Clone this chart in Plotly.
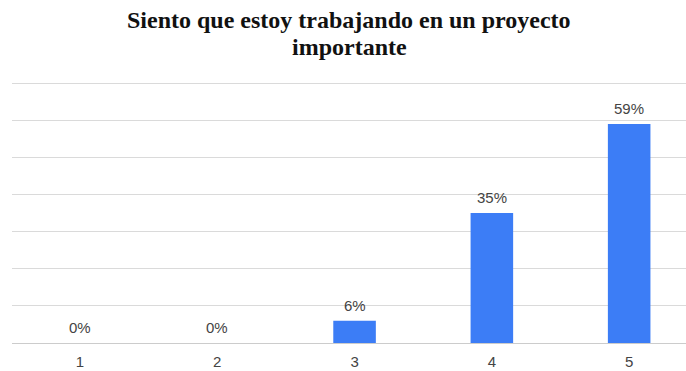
import plotly.graph_objects as go

# Survey answers on a 1-5 scale and the share of respondents for each
categories = ["1", "2", "3", "4", "5"]
shares = [0, 0, 6, 35, 59]
title_lines = ["Siento que estoy trabajando en un proyecto", "importante"]

x_pos = list(range(1, len(categories) + 1))
label_font = dict(family="Liberation Sans, Arial", size=15, color="#444444")

fig = go.Figure()
fig.add_trace(go.Bar(
    x=x_pos,
    y=shares,
    width=0.31,
    marker=dict(color="#3c7df6", line=dict(width=0)),
    hoverinfo="skip",
))

# Percentage labels sitting above each bar
for xv, v in zip(x_pos, shares):
    fig.add_annotation(
        x=xv, y=v, text=f"{v}%", showarrow=False,
        yanchor="bottom", yshift=5,
        font=label_font,
    )

# Two-line chart title centred over the plot, one annotation per line
title_font = dict(family="Liberation Serif, Times New Roman, serif", size=24,
                  color="#111111", weight="bold")
for line, shift in zip(title_lines, [62, 35]):
    fig.add_annotation(
        xref="paper", yref="paper", x=0.5, y=1,
        xanchor="center", yanchor="middle", yshift=shift,
        text=line, showarrow=False, font=title_font,
    )

fig.update_layout(
    width=686, height=371,
    margin=dict(l=12, r=0, t=82, b=28),
    paper_bgcolor="white", plot_bgcolor="white",
    showlegend=False,
    xaxis=dict(
        range=[0.505, 5.414],
        tickmode="array", tickvals=x_pos, ticktext=categories,
        showgrid=False, zeroline=False, showline=False,
        ticks="", ticklabelstandoff=8,
        tickfont=label_font,
    ),
    yaxis=dict(
        range=[0, 70.3], tickvals=[0, 10, 20, 30, 40, 50, 60, 70],
        showticklabels=False, ticks="",
        showgrid=True, gridcolor="#dadada", gridwidth=1,
        zeroline=True, zerolinecolor="#cccccc", zerolinewidth=1,
    ),
)

fig.write_html("out.html")
